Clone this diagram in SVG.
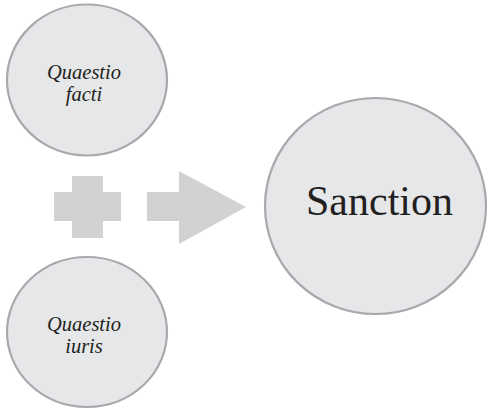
<svg xmlns="http://www.w3.org/2000/svg" width="487" height="409" viewBox="0 0 487 409">
<style>
.node{fill:#e6e7e9;stroke:#a7a9ac;stroke-width:2.2}
.shape{fill:#d1d2d4;stroke:none}
.lbl{font-family:"Liberation Serif","DejaVu Serif",serif;fill:#231f20;text-anchor:middle}
.it{font-family:"Liberation Serif","DejaVu Serif",serif;font-style:italic;font-size:20.5px}
</style>
<rect width="487" height="409" fill="#ffffff"/>
<g id="node-facti">
<ellipse class="node" cx="87" cy="80" rx="80" ry="75.5"/>
<text class="lbl it" x="84" y="79">Quaestio</text>
<text class="lbl it" x="84" y="101">facti</text>
</g>
<g id="node-iuris">
<ellipse class="node" cx="87" cy="332" rx="80" ry="75"/>
<text class="lbl it" x="84" y="331">Quaestio</text>
<text class="lbl it" x="84" y="353">iuris</text>
</g>
<g id="node-sanction">
<ellipse class="node" cx="375.5" cy="206" rx="110.5" ry="108"/>
<text class="lbl" x="379.5" y="215" font-size="42">Sanction</text>
</g>
<g id="connectors">
<path class="shape" d="M72,176 H103 V192 H121 V221 H103 V238 H72 V221 H54 V192 H72 Z"/>
<path class="shape" d="M147,192 H179 V171 L246,207 L179,244 V221 H147 Z"/>
</g>
</svg>
